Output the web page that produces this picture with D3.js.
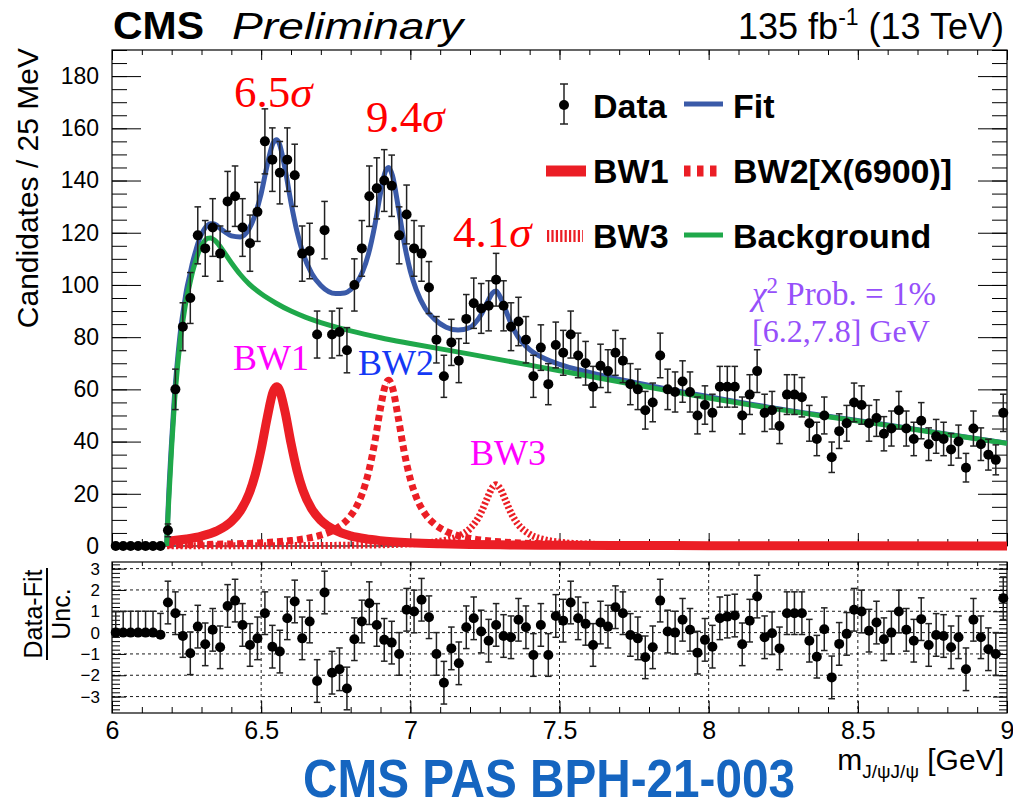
<!DOCTYPE html>
<html>
<head>
<meta charset="utf-8">
<script src="https://cdn.jsdelivr.net/npm/d3@7"></script>
<style>
  body { margin: 0; background: #fff; }
  svg { display: block; }
</style>
</head>
<body>
<svg id="chart" width="1013" height="811"></svg>
<script>
// ---- histogram: J/psi J/psi invariant mass, 25 MeV bins from 6.0 to 9.0 GeV ----
const binLow = 6.0;
const binWidth = 0.025;
const counts = [
  0, 0, 0, 0, 0, 0, 0, 6, 60, 84,
  95, 119, 114, 122, 112, 132, 134, 122, 116, 128,
  155, 148, 143, 148, 142, 112, 113, 81, 121, 81,
  82, 75, 100, 114, 134, 137, 140, 138, 119, 127,
  114, 112, 99, 79, 65, 78, 71, 87, 93, 91,
  92, 102, 92, 84, 86, 79, 65, 76, 62, 77,
  74, 81, 73, 70, 61, 69, 67, 74, 71, 62,
  60, 52, 55, 73, 60, 59, 63, 59, 50, 54,
  51, 61, 61, 61, 50, 58, 67, 51, 52, 46,
  58, 58, 57, 47, 41, 50, 34, 44, 47, 55,
  54, 47, 49, 43, 45, 52, 45, 41, 48, 39,
  42, 41, 37, 40, 30, 45, 39, 35, 33, 51
];
// (Data - Fit) / Unc. per bin
const pulls = [
  0, 0, 0, 0, 0, 0, -0.1, 1.41, 0.91, -0.16,
  -0.97, 0.28, -0.55, 0.13, -0.69, 1.25, 1.50, 0.36, -0.58, -0.27,
  0.91, -0.66, -0.89, 0.67, 1.46, -0.27, 0.52, -2.27, 1.88, -1.88,
  -1.72, -2.62, -0.31, 0.52, 1.38, 0.36, -0.34, -0.47, -1.00, 1.07,
  0.99, 1.54, 0.72, -1.00, -2.35, -0.74, -1.44, 0.25, 0.67, 0.05,
  -0.38, 0.36, -0.16, -0.22, 0.60, 0.25, -1.05, 0.36, -1.05, 0.78,
  0.56, 1.41, 0.67, 0.41, -0.58, 0.47, 0.28, 1.19, 0.91, -0.11,
  -0.27, -1.16, -0.69, 1.50, 0.05, 0.00, 0.60, 0.13, -0.94, -0.34,
  -0.66, 0.67, 0.75, 0.80, -0.55, 0.56, 1.69, -0.22, -0.03, -0.74,
  0.91, 0.91, 0.91, -0.38, -1.13, 0.16, -2.10, -0.53, -0.06, 1.07,
  0.99, 0.09, 0.47, -0.31, 0.00, 0.99, 0.13, -0.38, 0.63, -0.58,
  -0.11, -0.16, -0.69, -0.22, -1.72, 0.60, -0.22, -0.78, -1.00, 1.61
];

// ---- fit components (candidates per 25 MeV) ----
const fitMass = [6.183,6.19,6.2,6.21,6.22,6.23,6.24,6.25,6.26,6.27,6.28,6.29,6.30,6.31,6.32,6.33,6.34,6.35,6.36,6.38,
  6.40,6.43,6.46,6.48,6.50,6.52,6.54,6.552,6.56,6.58,6.60,6.62,6.64,6.67,6.70,6.75,6.78,6.80,6.82,6.84,
  6.86,6.88,6.90,6.915,6.927,6.94,6.96,6.98,7.00,7.02,7.05,7.08,7.12,7.16,7.20,7.22,7.24,7.26,7.275,7.287,
  7.30,7.32,7.34,7.36,7.40,7.45,7.50,7.60,7.80,8.00,8.20,8.40,8.60,8.80,9.00];
const fitVals = [0,19.4,40.5,58.6,71.7,82.8,90.9,98.2,103.4,108.6,112.8,116.6,119.4,121.5,122.8,123.4,123.4,122.9,121.9,120.2,
  118.8,118.4,121.6,127.0,135.0,145.8,154.3,155.6,154.4,144.5,131.6,120.5,112.2,104.3,99.8,96.7,96.9,98.2,100.8,105.1,
  112.0,122.3,135.1,143.0,145.0,141.9,129.5,115.8,105.3,98.1,91.0,87.0,83.8,82.7,83.7,85.8,89.2,93.8,96.9,97.7,
  95.7,90.2,84.5,80.3,75.2,71.8,69.6,66.5,61.5,57.2,53.2,49.7,46.4,42.8,39.4];

const bkgMass = [6.183,6.19,6.2,6.21,6.22,6.23,6.24,6.25,6.26,6.27,6.28,6.29,6.30,6.31,6.32,6.33,6.35,6.37,6.40,6.43,
  6.46,6.50,6.55,6.60,6.65,6.70,6.80,6.90,7.00,7.20,7.40,7.60,7.80,8.00,8.20,8.40,8.60,8.80,9.00];
const bkgVals = [0,17,38,56,69,80,88,95,100,105,109,112.5,115,116.8,117.8,118,116.5,113.5,108.5,104,
  100.3,96.6,93,90,87.6,85.6,82.4,79.8,77.6,73.5,69.3,65,60.8,56.7,52.9,49.5,46.2,42.7,39.3];

const bw1Mass = [6.185,6.2,6.25,6.3,6.35,6.4,6.43,6.46,6.48,6.5,6.52,6.54,6.552,6.56,6.58,6.6,6.62,6.64,6.67,6.7,
  6.75,6.8,6.85,6.9,7.0,7.1,7.2,7.35,7.5,7.75,8.0,8.5,9.0];
const bw1Vals = [1.84,2.0,2.69,3.78,5.7,9.4,13.4,20.2,27.3,37.1,49.0,59.0,61.0,60.1,51.4,39.4,29.0,21.4,14.1,9.8,
  5.9,3.9,2.76,2.05,1.25,0.84,0.6,0.4,0.28,0.18,0.12,0.07,0.04];

const bw2Mass = [6.185,6.3,6.4,6.5,6.55,6.6,6.65,6.7,6.75,6.78,6.8,6.82,6.84,6.86,6.88,6.9,6.915,6.927,6.94,6.96,
  6.98,7.0,7.02,7.05,7.08,7.12,7.16,7.2,7.25,7.3,7.4,7.5,7.75,8.0,8.5,9.0];
const bw2Vals = [0.41,0.58,0.81,1.23,1.57,2.07,2.85,4.15,6.55,9.07,11.6,15.2,20.5,28.3,39.3,52.8,61.1,63.5,60.7,48.8,
  35.7,25.6,18.7,12.2,8.5,5.6,3.95,2.93,2.12,1.6,1.0,0.69,0.34,0.2,0.09,0.05];

const bw3Mass = [6.185,6.5,6.7,6.9,7.0,7.1,7.16,7.2,7.22,7.24,7.26,7.275,7.287,7.3,7.32,7.34,7.36,7.4,7.45,7.5,
  7.6,7.75,8.0,8.5,9.0];
const bw3Vals = [0.06,0.11,0.2,0.46,0.83,1.85,3.7,6.7,9.4,13.5,18.9,22.4,23.5,22.2,17.2,12.1,8.5,4.5,2.4,1.46,
  0.7,0.32,0.14,0.05,0.02];

// ---- axis ticks ----
const xMajor = [6, 6.5, 7, 7.5, 8, 8.5, 9];
const xMinor = d3.range(0, 31).map(i => 6 + i * 0.1);
const yMajor = [0, 20, 40, 60, 80, 100, 120, 140, 160, 180];
const yMinor = d3.range(0, 39).map(i => i * 5);
const pullMajor = [-3, -2, -1, 0, 1, 2, 3];
const pullMinor = d3.range(-18, 17).map(i => i * 0.2);

// ---- colours ----
const RED = "#eb1e25", BLUE = "#3a5aa8", GREEN = "#1fa84a";
const SANS = "'Liberation Sans', Arial, Helvetica, sans-serif";
const SERIF = "'Liberation Serif', 'Times New Roman', serif";

// ---- layout ----
const X0 = 112, X1 = 1007;
const MT = 50, MB = 546;     // main pad
const PT = 562, PB = 713;    // ratio pad

const svg = d3.select("#chart");
svg.append("rect").attr("width", 1013).attr("height", 811).attr("fill", "#fff");

const x = d3.scaleLinear([6, 9], [X0, X1]);
const y = d3.scaleLinear([0, 190], [MB, MT]);
const yp = d3.scaleLinear([-3.77, 3.31], [PB, PT]);

function axis(gen, scale, values, size, pos, fmt, pad, fontSize) {
  const a = gen(scale).tickValues(values).tickSize(size).tickSizeOuter(0).tickPadding(pad || 3);
  a.tickFormat(fmt || (() => ""));
  const g = svg.append("g").attr("transform", pos).call(a);
  g.select(".domain").remove();
  g.selectAll(".tick line").attr("stroke", "#000").attr("stroke-width", 1);
  g.attr("font-family", SANS).attr("font-size", fontSize || 10);
  g.selectAll("text").attr("fill", "#000");
  return g;
}

// ---- ratio pad grid ----
const grid = svg.append("g").attr("stroke", "#000").attr("stroke-width", 0.9)
  .attr("stroke-dasharray", "3,3").attr("fill", "none");
pullMajor.forEach(v => grid.append("line").attr("x1", X0).attr("x2", X1)
  .attr("y1", yp(v)).attr("y2", yp(v)));
xMajor.slice(1, -1).forEach(v => grid.append("line").attr("x1", x(v)).attr("x2", x(v))
  .attr("y1", PT).attr("y2", PB));

// ---- main pad axes (ticks pointing inwards) ----
const fmtInt = d3.format("d");
axis(d3.axisLeft, y, yMajor, -29, `translate(${X0},0)`, fmtInt, 13, 23);
axis(d3.axisLeft, y, yMinor, -15, `translate(${X0},0)`);
axis(d3.axisRight, y, yMajor, -29, `translate(${X1},0)`);
axis(d3.axisRight, y, yMinor, -15, `translate(${X1},0)`);
axis(d3.axisTop, x, xMajor, -10, `translate(0,${MT})`);
axis(d3.axisTop, x, xMinor, -5, `translate(0,${MT})`);
axis(d3.axisBottom, x, xMajor, -13, `translate(0,${MB})`);
axis(d3.axisBottom, x, xMinor, -7, `translate(0,${MB})`);

// ---- ratio pad axes ----
const fmtPull = d3.format("d");
axis(d3.axisLeft, yp, pullMajor, -14, `translate(${X0},0)`, fmtPull, 12, 17);
axis(d3.axisLeft, yp, pullMinor, -8, `translate(${X0},0)`);
axis(d3.axisRight, yp, pullMajor, -14, `translate(${X1},0)`);
axis(d3.axisRight, yp, pullMinor, -8, `translate(${X1},0)`);
axis(d3.axisBottom, x, xMajor, -12, `translate(0,${PB})`, d3.format(""), 8, 25);
axis(d3.axisBottom, x, xMinor, -6, `translate(0,${PB})`);
axis(d3.axisTop, x, xMajor, -8, `translate(0,${PT})`);
axis(d3.axisTop, x, xMinor, -4, `translate(0,${PT})`);

// frames
svg.append("rect").attr("x", X0).attr("y", MT).attr("width", X1 - X0).attr("height", MB - MT)
  .attr("fill", "none").attr("stroke", "#000").attr("stroke-width", 1.2);
svg.append("rect").attr("x", X0).attr("y", PT).attr("width", X1 - X0).attr("height", PB - PT)
  .attr("fill", "none").attr("stroke", "#000").attr("stroke-width", 1.2);

// ---- fit curves ----
const curve = (ms, vs) => d3.line().x((d, i) => x(ms[i])).y(d => y(d)).curve(d3.curveMonotoneX)(vs);

svg.append("path").attr("d", curve(bw3Mass, bw3Vals)).attr("fill", "none")
  .attr("stroke", RED).attr("stroke-width", 7).attr("stroke-dasharray", "2.2,2.2");
svg.append("path").attr("d", curve(bw2Mass, bw2Vals)).attr("fill", "none")
  .attr("stroke", RED).attr("stroke-width", 7).attr("stroke-dasharray", "6,4");
svg.append("path").attr("d", curve(bw1Mass, bw1Vals)).attr("fill", "none")
  .attr("stroke", RED).attr("stroke-width", 9).attr("stroke-linejoin", "round");
svg.append("path").attr("d", curve(fitMass, fitVals)).attr("fill", "none")
  .attr("stroke", BLUE).attr("stroke-width", 5).attr("stroke-linejoin", "round");
svg.append("path").attr("d", curve(bkgMass, bkgVals)).attr("fill", "none")
  .attr("stroke", GREEN).attr("stroke-width", 5).attr("stroke-linejoin", "round");

// ---- data points with Poisson errors ----
const centers = counts.map((_, i) => binLow + (i + 0.5) * binWidth);
const capW = 3.3;
const dataG = svg.append("g").attr("stroke", "#222").attr("stroke-width", 1.5);
counts.forEach((n, i) => {
  if (n <= 0) return;
  const e = Math.sqrt(n), cx = x(centers[i]);
  dataG.append("line").attr("x1", cx).attr("x2", cx).attr("y1", y(n - e)).attr("y2", y(n + e));
  [n - e, n + e].forEach(v => dataG.append("line").attr("x1", cx - capW).attr("x2", cx + capW)
    .attr("y1", y(v)).attr("y2", y(v)));
});
svg.append("g").selectAll("circle").data(counts).join("circle")
  .attr("cx", (d, i) => x(centers[i])).attr("cy", d => y(d)).attr("r", 5).attr("fill", "#000");

// ---- pulls ----
const pullG = svg.append("g").attr("stroke", "#222").attr("stroke-width", 1.5);
pulls.forEach((p, i) => {
  const cx = x(centers[i]);
  const lo = counts[i] > 0 ? p - 1 : p, hi = p + 1;
  pullG.append("line").attr("x1", cx).attr("x2", cx).attr("y1", yp(lo)).attr("y2", yp(hi));
  pullG.append("line").attr("x1", cx - capW).attr("x2", cx + capW).attr("y1", yp(hi)).attr("y2", yp(hi));
  if (counts[i] > 0)
    pullG.append("line").attr("x1", cx - capW).attr("x2", cx + capW).attr("y1", yp(lo)).attr("y2", yp(lo));
});
svg.append("g").selectAll("circle").data(pulls).join("circle")
  .attr("cx", (d, i) => x(centers[i])).attr("cy", d => yp(d)).attr("r", 5).attr("fill", "#000");

// ---- legend ----
const leg = svg.append("g");
leg.append("line").attr("x1", 564).attr("x2", 564).attr("y1", 84).attr("y2", 124)
  .attr("stroke", "#222").attr("stroke-width", 1.5);
[84, 124].forEach(v => leg.append("line").attr("x1", 560).attr("x2", 568).attr("y1", v).attr("y2", v)
  .attr("stroke", "#222").attr("stroke-width", 1.5));
leg.append("circle").attr("cx", 564).attr("cy", 105).attr("r", 5).attr("fill", "#000");
leg.append("line").attr("x1", 684).attr("x2", 723).attr("y1", 104).attr("y2", 104)
  .attr("stroke", BLUE).attr("stroke-width", 5);
leg.append("line").attr("x1", 546).attr("x2", 586).attr("y1", 171).attr("y2", 171)
  .attr("stroke", RED).attr("stroke-width", 11);
leg.append("line").attr("x1", 684).attr("x2", 723).attr("y1", 171).attr("y2", 171)
  .attr("stroke", RED).attr("stroke-width", 11).attr("stroke-dasharray", "6.5,6.5");
leg.append("line").attr("x1", 547).attr("x2", 583).attr("y1", 236).attr("y2", 236)
  .attr("stroke", RED).attr("stroke-width", 12).attr("stroke-dasharray", "2.2,2.2");
leg.append("line").attr("x1", 684).attr("x2", 723).attr("y1", 235).attr("y2", 235)
  .attr("stroke", GREEN).attr("stroke-width", 5);

const legText = [["Data", 593, 118], ["BW1", 593, 183], ["BW3", 593, 248],
                 ["Fit", 733, 118], ["BW2[X(6900)]", 733, 183], ["Background", 733, 248]];
legText.forEach(([t, tx, ty]) => leg.append("text").attr("x", tx).attr("y", ty).text(t)
  .attr("font-family", SANS).attr("font-weight", "bold").attr("font-size", 34).attr("fill", "#000"));

// ---- significance and component labels ----
function sigma(txt, tx, ty) {
  const t = svg.append("text").attr("x", tx).attr("y", ty).attr("font-family", SERIF)
    .attr("font-size", 45).attr("fill", "#ff0000");
  t.append("tspan").text(txt);
  t.append("tspan").attr("font-style", "italic").text("σ");
}
sigma("6.5", 234, 107);
sigma("9.4", 366, 132);
sigma("4.1", 453, 247);

const comp = [["BW1", 233, 370, "#ff00ff"], ["BW2", 358, 375, "#1438f5"], ["BW3", 470, 465, "#ff00ff"]];
comp.forEach(([t, tx, ty, c]) => svg.append("text").attr("x", tx).attr("y", ty).text(t)
  .attr("font-family", SERIF).attr("font-size", 36).attr("fill", c));

const chi = svg.append("text").attr("x", 752).attr("y", 305).attr("font-family", SERIF)
  .attr("font-size", 33).attr("fill", "#9650fa");
chi.append("tspan").attr("font-style", "italic").text("χ");
chi.append("tspan").attr("font-size", 23).attr("dy", -12).text("2");
chi.append("tspan").attr("dy", 12).text(" Prob. = 1%");
svg.append("text").attr("x", 752).attr("y", 342).attr("font-family", SERIF)
  .attr("font-size", 32).attr("fill", "#9650fa").text("[6.2,7.8] GeV");

// ---- header ----
svg.append("text").attr("x", 113).attr("y", 39).text("CMS")
  .attr("font-family", SANS).attr("font-weight", "bold").attr("font-size", 38)
  .attr("textLength", 91).attr("lengthAdjust", "spacingAndGlyphs");
svg.append("text").attr("x", 232).attr("y", 39).text("Preliminary")
  .attr("font-family", SANS).attr("font-style", "italic").attr("font-size", 37)
  .attr("textLength", 231).attr("lengthAdjust", "spacingAndGlyphs");
const lumi = svg.append("text").attr("x", 1004).attr("y", 39).attr("text-anchor", "end")
  .attr("font-family", SANS).attr("font-size", 36);
lumi.append("tspan").text("135 fb");
lumi.append("tspan").attr("font-size", 23).attr("dy", -14).text("-1");
lumi.append("tspan").attr("dy", 14).text(" (13 TeV)");

// ---- axis titles ----
svg.append("text").attr("transform", "translate(38,48) rotate(-90)").attr("text-anchor", "end")
  .attr("font-family", SANS).attr("font-size", 30).text("Candidates / 25 MeV");

const pt = svg.append("g").attr("transform", "translate(0,614) rotate(-90)");
pt.append("text").attr("x", 0).attr("y", 42).attr("text-anchor", "middle")
  .attr("font-family", SANS).attr("font-size", 25).text("Data-Fit");
pt.append("line").attr("x1", -46).attr("x2", 46).attr("y1", 47).attr("y2", 47)
  .attr("stroke", "#000").attr("stroke-width", 2);
pt.append("text").attr("x", 0).attr("y", 70).attr("text-anchor", "middle")
  .attr("font-family", SANS).attr("font-size", 25).text("Unc.");

const xt = svg.append("text").attr("x", 1004).attr("y", 770).attr("text-anchor", "end")
  .attr("font-family", SANS).attr("font-size", 30);
xt.append("tspan").text("m");
xt.append("tspan").attr("font-size", 19).attr("dy", 8).text("J/ψJ/ψ");
xt.append("tspan").attr("dy", -8).text(" [GeV]");

// report number, narrowed to its printed width
svg.append("text").attr("transform", "translate(303,797) scale(0.9,1)").text("CMS PAS BPH-21-003")
  .attr("font-family", SANS).attr("font-weight", "bold").attr("font-size", 53)
  .attr("fill", "#1565c0");
</script>
</body>
</html>
